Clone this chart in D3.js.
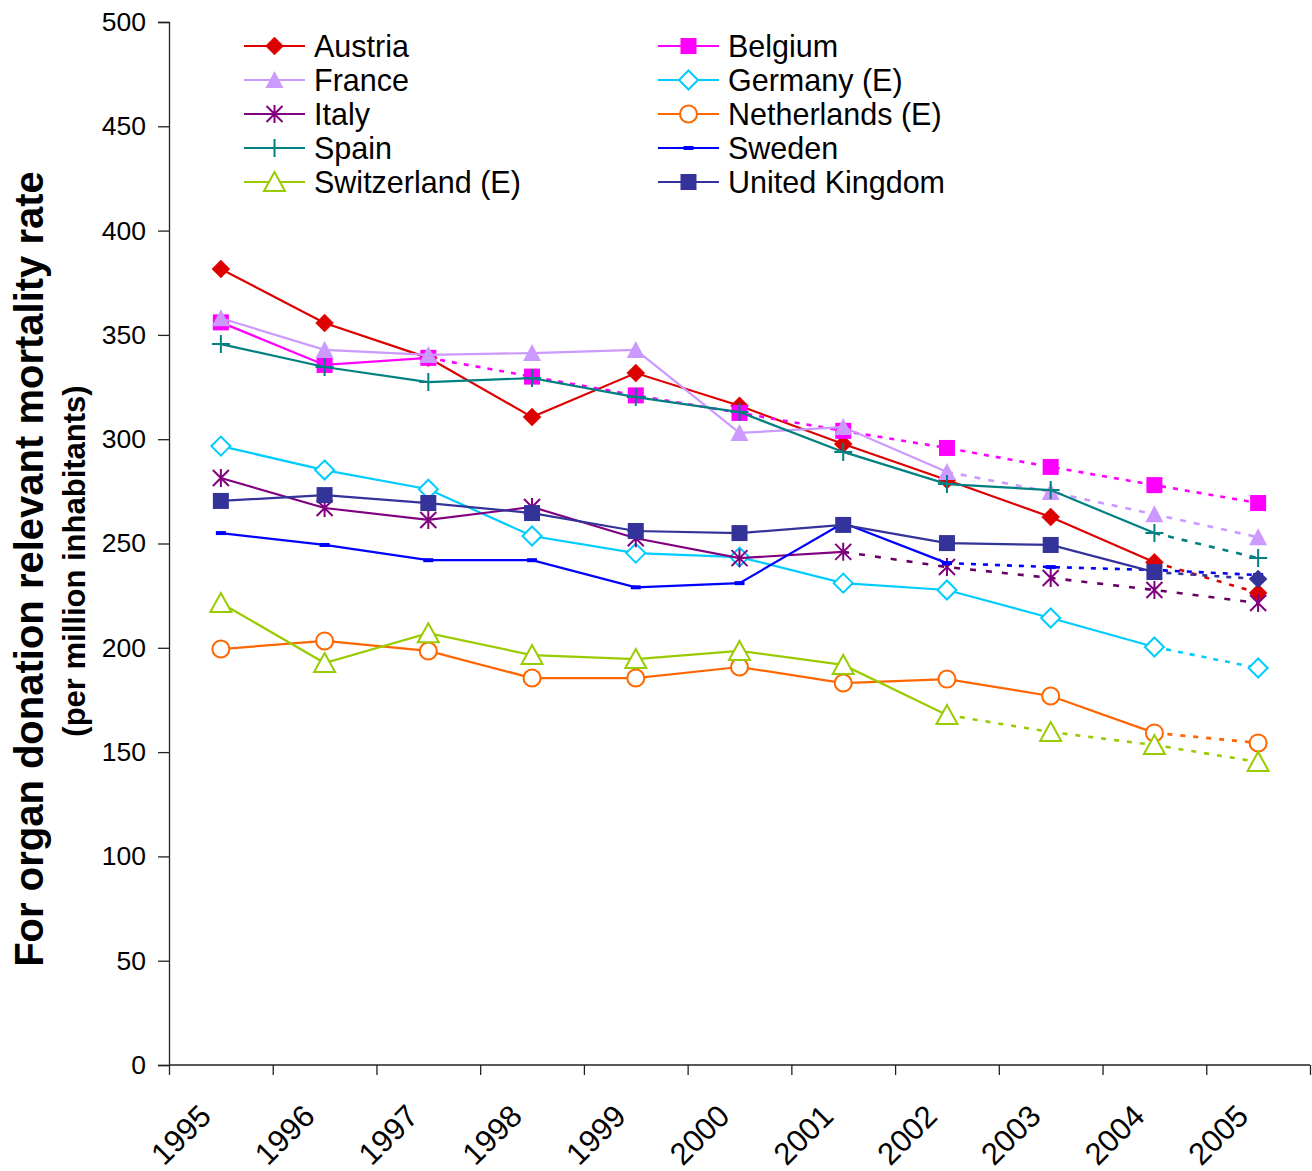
<!DOCTYPE html>
<html>
<head>
<meta charset="utf-8">
<script src="https://cdn.jsdelivr.net/npm/d3@7"></script>
<style>
  body { margin: 0; background: #fff; }
  svg { font-family: "Liberation Sans", Arial, sans-serif; }
</style>
</head>
<body>
<svg id="chart" width="1312" height="1171"></svg>
<script>
var years = [1995, 1996, 1997, 1998, 1999, 2000, 2001, 2002, 2003, 2004, 2005];
var yTicks = [0, 50, 100, 150, 200, 250, 300, 350, 400, 450, 500];

var austria     = [381.6, 355.7, 339.0, 310.6, 331.7, 316.0, 297.7, 280.4, 262.7, 241.0, 226.3];
var belgium     = [356.0, 335.6, 339.0, 330.0, 321.0, 312.6, 304.0, 295.8, 286.7, 278.0, 269.4];
var france      = [358.0, 342.8, 340.4, 341.3, 342.8, 303.0, 305.8, 284.3, 274.7, 264.0, 253.0];
var germany     = [296.7, 285.2, 276.0, 253.6, 245.4, 243.5, 231.0, 227.7, 214.3, 200.4, 190.3];
var italy       = [281.4, 267.0, 261.3, 267.5, 252.5, 243.0, 246.0, 238.7, 233.5, 227.7, 221.5];
var netherlands = [199.4, 203.3, 198.5, 185.5, 185.5, 190.8, 183.1, 185.0, 176.9, 159.2, 154.4];
var spain       = [345.6, 334.6, 327.4, 329.3, 320.2, 313.0, 293.9, 278.5, 275.6, 255.0, 243.0];
var sweden      = [255.0, 249.3, 242.0, 242.0, 229.0, 231.0, 259.8, 240.6, 238.7, 237.3, 234.9];
var switzerland = [221.5, 192.7, 207.0, 196.5, 194.6, 198.5, 191.8, 167.8, 159.6, 153.4, 145.3];
var uk          = [270.4, 273.2, 269.4, 264.6, 256.0, 255.0, 258.9, 250.2, 249.3, 236.3, 233.0];

// estimated years start where the line turns dotted
var series = [
  {name: 'Austria',           values: austria,     color: '#dd0000', shape: 'diamond',  fill: true,  estFrom: 2004, dash: '5,8'},
  {name: 'Belgium',           values: belgium,     color: '#ff00ff', shape: 'square',   fill: true,  estFrom: 1997, dash: '5,7'},
  {name: 'France',            values: france,      color: '#cc99ff', shape: 'triangle', fill: true,  estFrom: 2002, dash: '6,8'},
  {name: 'Germany (E)',       values: germany,     color: '#00ccff', shape: 'diamond',  fill: false, estFrom: 2004, dash: '5,7'},
  {name: 'Italy',             values: italy,       color: '#800080', shape: 'asterisk', fill: false, estFrom: 2001, dash: '6,10', dashColor: '#660066'},
  {name: 'Netherlands (E)',   values: netherlands, color: '#ff6600', shape: 'circle',   fill: false, estFrom: 2004, dash: '5,8'},
  {name: 'Spain',             values: spain,       color: '#008080', shape: 'plus',     fill: false, estFrom: 2004, dash: '6,8'},
  {name: 'Sweden',            values: sweden,      color: '#0000ff', shape: 'dash',     fill: true,  estFrom: 2002, dash: '5,7'},
  {name: 'Switzerland (E)',   values: switzerland, color: '#99cc00', shape: 'opentri',  fill: false, estFrom: 2002, dash: '5,8'},
  {name: 'United Kingdom',    values: uk,          color: '#333399', shape: 'square',   fill: true,  estFrom: 2004, dash: '5,7', lastShape: 'diamond'}
];

var svg = d3.select('#chart');
var mLeft = 169, mRight = 1310, mTop = 22, mBottom = 1065;

var x = d3.scaleBand().domain(years).range([mLeft, mRight]).padding(0);
var xEdge = d3.scaleLinear().domain([0, years.length]).range([mLeft, mRight]);
var y = d3.scaleLinear().domain([0, 500]).range([mBottom, mTop]);

// y axis
var yAxis = svg.append('g')
  .attr('transform', 'translate(' + mLeft + ',0)')
  .call(d3.axisLeft(y).tickValues(yTicks).tickSize(11).tickPadding(12));
yAxis.selectAll('text').style('font-size', '26.5px').attr('fill', '#000');
yAxis.selectAll('line, path').attr('stroke', '#222').attr('stroke-width', 1.3);

// x axis: ticks on the category edges
var xAxis = svg.append('g')
  .attr('transform', 'translate(0,' + mBottom + ')')
  .call(d3.axisBottom(xEdge).tickValues(d3.range(years.length + 1)).tickSize(10).tickFormat(''));
xAxis.select('.domain').attr('d', 'M' + mLeft + ',0H' + mRight);
xAxis.selectAll('line, path').attr('stroke', '#222').attr('stroke-width', 1.3);

svg.append('g').selectAll('text')
  .data(years)
  .enter().append('text')
  .attr('transform', function(d) {
    return 'translate(' + (x(d) + x.bandwidth() / 2 - 8) + ',1118) rotate(-45)';
  })
  .attr('text-anchor', 'end')
  .style('font-size', '31px')
  .text(function(d) { return d; });

// axis titles
svg.append('text')
  .attr('transform', 'translate(43,569) rotate(-90)')
  .attr('text-anchor', 'middle')
  .style('font-size', '40px').style('font-weight', 'bold')
  .text('For organ donation relevant mortality rate');
svg.append('text')
  .attr('transform', 'translate(85,561) rotate(-90)')
  .attr('text-anchor', 'middle')
  .style('font-size', '31px').style('font-weight', 'bold')
  .text('(per million inhabitants)');

function cx(i) { return x(years[i]) + x.bandwidth() / 2; }

function marker(g, s, shape) {
  var c = s.color;
  if (shape === 'diamond') {
    var r = s.fill ? 9 : 9.5;
    g.append('path').attr('d', 'M0,' + -r + 'L' + r + ',0L0,' + r + 'L' + -r + ',0Z')
      .attr('fill', s.fill ? c : '#fff').attr('stroke', c).attr('stroke-width', s.fill ? 0.5 : 2);
  } else if (shape === 'square') {
    g.append('rect').attr('x', -8).attr('y', -8).attr('width', 16).attr('height', 16).attr('fill', c);
  } else if (shape === 'triangle') {
    g.append('path').attr('d', 'M0,-9L9,8L-9,8Z').attr('fill', c);
  } else if (shape === 'opentri') {
    g.append('path').attr('d', 'M0,-10L10.5,9L-10.5,9Z').attr('fill', '#fff').attr('stroke', c).attr('stroke-width', 2);
  } else if (shape === 'circle') {
    g.append('circle').attr('r', 8.5).attr('fill', '#fff').attr('stroke', c).attr('stroke-width', 2);
  } else if (shape === 'asterisk') {
    g.append('path').attr('d', 'M0,-9V9M-8,-8L8,8M8,-8L-8,8').attr('stroke', c).attr('stroke-width', 2);
  } else if (shape === 'plus') {
    g.append('path').attr('d', 'M0,-9V9M-9,0H9').attr('stroke', c).attr('stroke-width', 2);
  } else if (shape === 'dash') {
    g.append('rect').attr('x', -5).attr('y', -2).attr('width', 10).attr('height', 4).attr('fill', c);
  }
}

var line = d3.line()
  .x(function(d) { return cx(d[0]); })
  .y(function(d) { return y(d[1]); });

var plot = svg.append('g');
series.forEach(function(s) {
  var split = years.indexOf(s.estFrom);
  var pts = s.values.map(function(v, i) { return [i, v]; });
  var g = plot.append('g');
  g.append('path')
    .attr('d', line(pts.slice(0, split + 1)))
    .attr('fill', 'none').attr('stroke', s.color).attr('stroke-width', 2.2);
  g.append('path')
    .attr('d', line(pts.slice(split)))
    .attr('fill', 'none').attr('stroke', s.dashColor || s.color).attr('stroke-width', 2.6)
    .attr('stroke-dasharray', s.dash);
  pts.forEach(function(p, i) {
    var m = g.append('g').attr('transform', 'translate(' + cx(p[0]) + ',' + y(p[1]) + ')');
    marker(m, s, (i === pts.length - 1 && s.lastShape) ? s.lastShape : s.shape);
  });
});

// legend, two columns
var legend = svg.append('g');
series.forEach(function(s, i) {
  var col = i % 2, row = Math.floor(i / 2);
  var lx = col === 0 ? 244 : 658;
  var ly = 46 + row * 34;
  var g = legend.append('g').attr('transform', 'translate(' + lx + ',' + ly + ')');
  g.append('line').attr('x1', 0).attr('x2', 61).attr('stroke', s.color).attr('stroke-width', 2.2);
  var m = g.append('g').attr('transform', 'translate(30.5,0)');
  marker(m, s, s.shape);
  g.append('text').attr('x', 70).attr('dy', '0.36em')
    .style('font-size', '30.5px').text(s.name);
});
</script>
</body>
</html>
